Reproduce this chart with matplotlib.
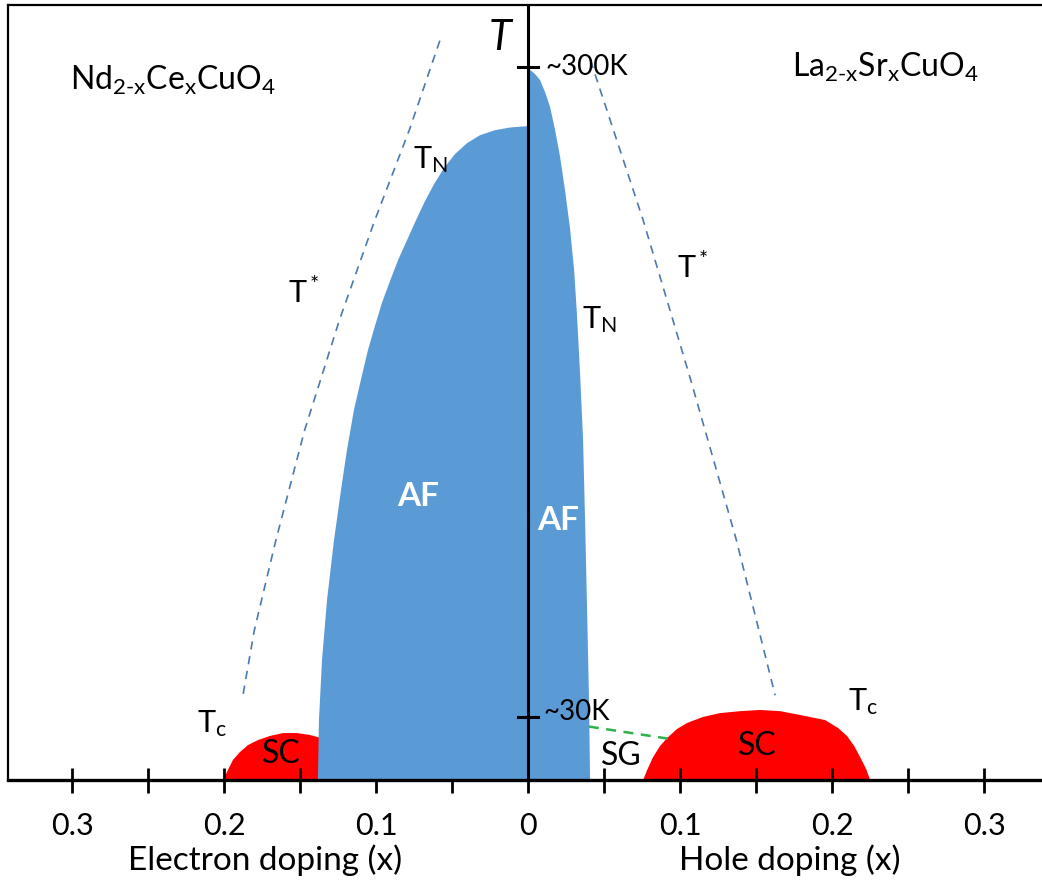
import numpy as np
import matplotlib
matplotlib.use("Agg")
import matplotlib.pyplot as plt

plt.rcParams['font.family'] = ['Lato', 'DejaVu Sans']
plt.rcParams['mathtext.fontset'] = 'custom'
plt.rcParams['mathtext.rm'] = 'Lato'
plt.rcParams['mathtext.it'] = 'Lato:italic'

# electron side uses negative x, hole side positive x; T in kelvin (approx.)
af_e_x = [0.0, -0.0118, -0.0217, -0.0316, -0.0401, -0.0480, -0.0553, -0.0618, -0.0678,
          -0.0737, -0.0796, -0.0855, -0.0908, -0.0961, -0.1007, -0.1053, -0.1092, -0.1145,
          -0.1191, -0.1230, -0.1276, -0.1322, -0.1355, -0.1375, -0.1382, -0.1382]
af_e_T = [275.5, 274.9, 273.8, 271.7, 268.4, 263.9, 258.0, 251.4, 244.3,
          236.4, 228.1, 219.8, 211.1, 202.0, 192.4, 182.4, 172.0, 157.5,
          140.9, 124.3, 103.5, 78.6, 53.6, 28.7, 3.8, 0]

af_h_x = [0.0, 0.0046, 0.0079, 0.0112, 0.0145, 0.0178, 0.0211, 0.0243, 0.0276, 0.0303,
          0.0322, 0.0342, 0.0362, 0.0375, 0.0388, 0.0401, 0.0408, 0.0408]
af_h_T = [299.6, 297.1, 294.6, 289.6, 283.4, 273.8, 262.6, 248.9, 233.1, 215.7,
          197.0, 172.9, 145, 111.8, 75.7, 37, 3.8, 0]

sc_e_x = [-0.2015, -0.2007, -0.1974, -0.1941, -0.1895, -0.1842, -0.1776, -0.1697,
          -0.1612, -0.152, -0.1434, -0.1382, -0.130]
sc_e_T = [0, 3.8, 7.9, 12.1, 15.4, 18.3, 20.4, 22.1, 23.3, 23.3, 22.5, 21.6, 20.8]

sc_h_x = [0.0745, 0.0757, 0.0783, 0.0822, 0.0868, 0.0914, 0.098, 0.1046, 0.1151, 0.1263,
          0.1395, 0.1526, 0.1658, 0.179, 0.1954, 0.2039, 0.2099, 0.2145, 0.2184,
          0.2224, 0.225, 0.226]
sc_h_T = [0, 3.8, 7.9, 13.3, 17.9, 21.2, 25.0, 27.5, 30.0, 31.6,
          32.4, 32.9, 32.4, 30.8, 28.7, 25.4, 22.0, 17.9, 13.3,
          8.3, 3.8, 0]

tstar_e_x = [-0.058, -0.078, -0.101, -0.124, -0.147, -0.166, -0.180, -0.1875]
tstar_e_T = [311, 274, 236, 195, 149, 103, 66, 39]

tstar_h_x = [0.041, 0.0757, 0.107, 0.137, 0.1625]
tstar_h_T = [302.9, 236.4, 170, 103.5, 39]

sg_x = [0.040, 0.092]
sg_T = [26, 21]

tick_pos = np.arange(-0.30, 0.301, 0.05)
label_pos = [-0.3, -0.2, -0.1, 0.0, 0.1, 0.2, 0.3]
label_txt = ['0.3', '0.2', '0.1', '0', '0.1', '0.2', '0.3']

W, H = 1042, 888
fig = plt.figure(figsize=(W / 100, H / 100), dpi=100)
ax = fig.add_axes([8 / W, 1 - 780 / H, 1034 / W, 775 / H])
ax.set_xlim(-0.342, 0.338)
ax.set_ylim(3.8, 325.8)

blue = '#5b9bd5'
red = '#ff0000'

ax.fill(sc_e_x + [sc_e_x[-1]], sc_e_T + [0], color=red, lw=0, zorder=1)
ax.fill(sc_h_x, sc_h_T, color=red, lw=0, zorder=1)
ax.fill(af_e_x + [0.0], af_e_T + [0], color=blue, lw=0, zorder=2)
ax.fill(af_h_x + [0.0], af_h_T + [0], color=blue, lw=0, zorder=2)

ax.plot(tstar_e_x, tstar_e_T, ls=(0, (5, 4)), color='#4a7ab0', lw=1.2, zorder=3)
ax.plot(tstar_h_x, tstar_h_T, ls=(0, (5, 4)), color='#4a7ab0', lw=1.2, zorder=3)
ax.plot(sg_x, sg_T, ls=(0, (4, 3)), color='#2db34a', lw=1.8, zorder=3)

# vertical T axis with marks
ax.axvline(0, color='black', lw=2.2, zorder=4)
for t in [300, 30]:
    ax.plot([-0.0066, 0.0066], [t, t], color='black', lw=2.2, zorder=4)

ax.spines['right'].set_visible(False)
ax.spines['bottom'].set_linewidth(2.4)
ax.spines['left'].set_linewidth(1.6)
ax.spines['top'].set_linewidth(1.6)
ax.set_yticks([])
ax.set_xticks(tick_pos)
ax.set_xticklabels([])
ax.tick_params(axis='x', direction='inout', length=18, width=2, color='black')
for p, t in zip(label_pos, label_txt):
    fig.text((528 + p * 1520) / W, 1 - 826 / H, t, fontsize=22, ha='center', va='center')


def txt(xp, yp, s, **kw):
    fig.text(xp / W, 1 - yp / H, s, **kw)


txt(265, 860, 'Electron doping (x)', fontsize=24, ha='center', va='center')
txt(790, 860, 'Hole doping (x)', fontsize=24, ha='center', va='center')
txt(500, 38, 'T', fontsize=30, style='italic', ha='center', va='center')
txt(545, 67, '~300K', fontsize=20, ha='left', va='center')
txt(543, 712, '~30K', fontsize=20, ha='left', va='center')
txt(70, 90, r'$\mathregular{Nd_{2\text{-}x}Ce_xCuO_4}$', fontsize=23, ha='left', va='baseline')
txt(792, 77, r'$\mathregular{La_{2\text{-}x}Sr_xCuO_4}$', fontsize=23, ha='left', va='baseline')
txt(413, 168, r'$\mathregular{T_N}$', fontsize=22, ha='left', va='baseline')
txt(582, 328, r'$\mathregular{T_N}$', fontsize=22, ha='left', va='baseline')
txt(288, 303, r'$\mathregular{T^*}$', fontsize=22, ha='left', va='baseline')
txt(677, 278, r'$\mathregular{T^*}$', fontsize=22, ha='left', va='baseline')
txt(197, 732, r'$\mathregular{T_c}$', fontsize=22, ha='left', va='baseline')
txt(848, 710, r'$\mathregular{T_c}$', fontsize=22, ha='left', va='baseline')
txt(281, 754, 'SC', fontsize=23, ha='center', va='center')
txt(757, 746, 'SC', fontsize=23, ha='center', va='center')
txt(621, 756, 'SG', fontsize=23, ha='center', va='center')
txt(418, 496, 'AF', fontsize=24, color='white', weight='bold', ha='center', va='center')
txt(558, 521, 'AF', fontsize=24, color='white', weight='bold', ha='center', va='center')

fig.savefig('out.png', dpi=100)
